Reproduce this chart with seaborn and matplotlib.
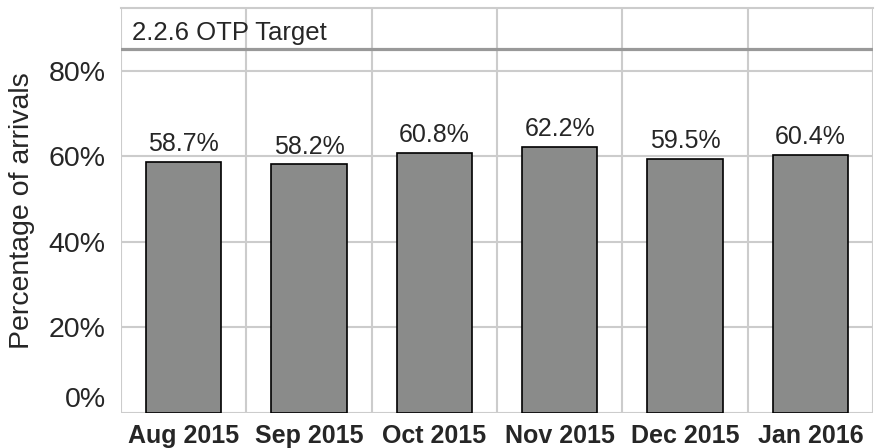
import numpy as np
import pandas as pd
import matplotlib
matplotlib.use("Agg")
import matplotlib.pyplot as plt
import matplotlib.transforms as mtrans
import seaborn as sns

months = ["Aug 2015", "Sep 2015", "Oct 2015", "Nov 2015", "Dec 2015", "Jan 2016"]
otp = [58.7, 58.2, 60.8, 62.2, 59.5, 60.4]
target = 85.0
target_label = "2.2.6 OTP Target"

sns.set_style("white")
plt.rcParams["font.family"] = ["Liberation Sans", "DejaVu Sans"]

df = pd.DataFrame({"month": months, "otp": otp})

fig = plt.figure(figsize=(8.75, 4.48), dpi=100)
ax = fig.add_axes([121 / 875, 35 / 448, 752 / 875, 405 / 448])

grid_c = "#cccccc"
sns.barplot(data=df, x="month", y="otp", color="#8a8b8a", saturation=1,
            width=0.6, edgecolor="black", linewidth=1.2, ax=ax, zorder=3)

ax.set_xlim(-0.5, len(months) - 0.5)
ax.set_ylim(0, 94.7)

# horizontal grid
ax.set_yticks([0, 20, 40, 60, 80])
ax.set_yticklabels([f"{v}%" for v in [0, 20, 40, 60, 80]], fontsize=20.5)
ax.yaxis.grid(True, color=grid_c, lw=1.5, zorder=0)
ax.tick_params(axis="y", length=8, color=grid_c, width=1.5, pad=3)
# the 0% label sits a little above its line
zero_lab = ax.get_yticklabels()[0]
zero_lab.set_transform(zero_lab.get_transform() +
                       mtrans.ScaledTranslation(0, 16 / 100, fig.dpi_scale_trans))

# vertical grid between categories
ax.set_xticks(np.arange(-0.5, len(months)), minor=True)
ax.xaxis.grid(True, which="minor", color=grid_c, lw=1.5, zorder=0)
ax.tick_params(axis="x", which="minor", length=6, color=grid_c, width=1.5)
ax.tick_params(axis="x", which="major", length=0, pad=8)
for lab in ax.get_xticklabels():
    lab.set_fontweight("bold")
    lab.set_fontsize(18)
ax.set_axisbelow(True)

for s in ["left", "right", "bottom"]:
    ax.spines[s].set_visible(False)
ax.spines["top"].set_color(grid_c)
ax.spines["top"].set_linewidth(1.5)

ax.axhline(target, color="#999999", lw=2.3, zorder=2)
ax.text(-0.41, target + 1.0, target_label, fontsize=18.5, ha="left", va="bottom")

ax.bar_label(ax.containers[0], labels=[f"{v}%" for v in otp], fontsize=18, padding=4)

ax.set_xlabel("")
ax.set_ylabel("Percentage of arrivals", fontsize=20.5, labelpad=10)

fig.savefig("out.png", dpi=100)
